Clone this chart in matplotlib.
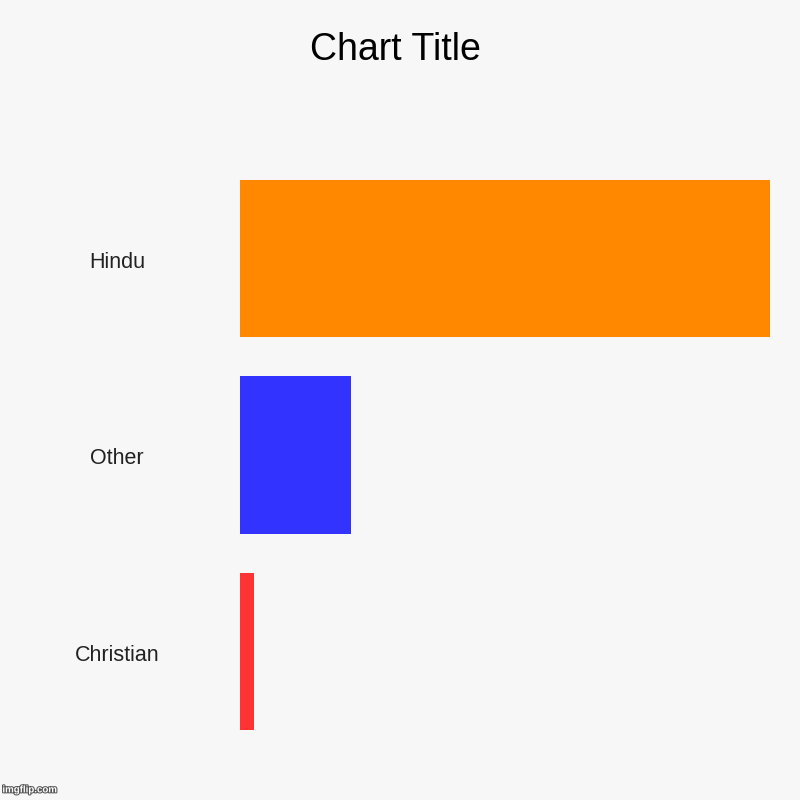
import matplotlib
matplotlib.use("Agg")
import matplotlib.pyplot as plt
import matplotlib.patheffects as pe
from matplotlib.transforms import blended_transform_factory

categories = ["Hindu", "Other", "Christian"]
values = [80.0, 16.8, 2.1]
colors = ["#ff8800", "#3333ff", "#ff3333"]

bg = "#f7f7f7"
plt.rcParams["font.family"] = ["Liberation Sans", "DejaVu Sans"]

fig = plt.figure(figsize=(8, 8), dpi=100, facecolor=bg)
ax = fig.add_axes([0.3, 0.0625, 0.6625, 0.7375])
ax.set_facecolor(bg)

ypos = list(range(len(categories)))[::-1]
ax.barh(ypos, values, height=0.8, color=colors)
ax.set_xlim(0, max(values))
ax.set_ylim(-0.5, len(categories) - 0.5)

for s in ax.spines.values():
    s.set_visible(False)
ax.set_xticks([])
ax.set_yticks([])

# labels sit a few px below the bar centres in the original
tr = blended_transform_factory(fig.transFigure, ax.transData)
for y, name in zip(ypos, categories):
    ax.text(117 / 800, y - 0.02, name, transform=tr, ha="center", va="center",
            fontsize=15.5, color="#222222")

fig.text(0.494, 0.937, "Chart Title", ha="center", va="center", fontsize=27, color="black")

fig.text(0.003, 0.007, "imgflip.com", ha="left", va="bottom", fontsize=7, color="white",
         fontweight="bold",
         path_effects=[pe.withStroke(linewidth=1.5, foreground="#555555")])

fig.savefig("out.png", dpi=100, facecolor=bg)
